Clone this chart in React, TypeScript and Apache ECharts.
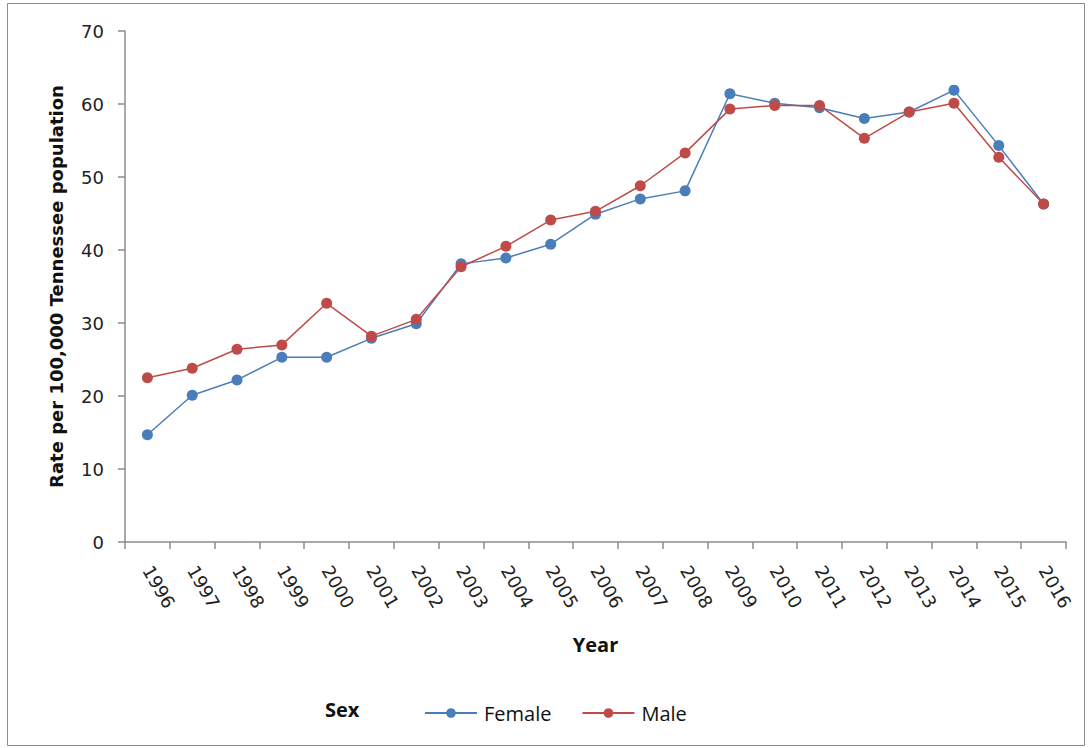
import React, { useEffect, useRef } from "react";
import * as echarts from "echarts";

const years = ["1996","1997","1998","1999","2000","2001","2002","2003","2004","2005","2006","2007","2008","2009","2010","2011","2012","2013","2014","2015","2016"];
const female = [14.7,20.1,22.2,25.3,25.3,27.9,29.9,38.1,38.9,40.8,44.9,47.0,48.1,61.4,60.1,59.5,58.0,58.9,61.9,54.3,46.3];
const male = [22.5,23.8,26.4,27.0,32.7,28.2,30.5,37.7,40.5,44.1,45.3,48.8,53.3,59.3,59.8,59.8,55.3,58.9,60.1,52.7,46.3];
const yTicks = { min: 0, max: 70, interval: 10 };

export default function App() {
  const ref = useRef<HTMLDivElement>(null);
  useEffect(() => {
    const chart = echarts.init(ref.current!, null, { renderer: "svg" });
    const axisColor = "#8c8c8c";
    chart.setOption({
      animation: false,
      backgroundColor: "#ffffff",
      textStyle: { fontFamily: "DejaVu Sans" },
      grid: { left: 125, top: 31, right: 23, bottom: 206 },
      graphic: [
        { type: "rect", shape: { x: 7.5, y: 3.5, width: 1077, height: 742 }, style: { fill: "none", stroke: "#8c8c8c", lineWidth: 1 }, z: -1 },
        { type: "text", left: 325, top: 699, style: { text: "Sex", font: "bold 20px 'Open Sans'", fill: "#111" } },
      ],
      legend: {
        left: 419,
        top: 698,
        itemWidth: 52,
        itemHeight: 12,
        itemGap: 30,
        textStyle: { fontFamily: "Open Sans", fontSize: 20, color: "#111", padding: [0, 0, 0, 2] },
        data: ["Female", "Male"],
      },
      xAxis: {
        type: "category",
        data: years,
        boundaryGap: true,
        name: "Year",
        nameLocation: "middle",
        nameGap: 92,
        nameTextStyle: { fontFamily: "Open Sans", fontWeight: "bold", fontSize: 20, color: "#111" },
        axisLine: { lineStyle: { color: axisColor, width: 1.5 } },
        axisTick: { show: true, length: 7, alignWithLabel: false, lineStyle: { color: axisColor, width: 1.5 } },
        axisLabel: { rotate: -60, fontSize: 18, color: "#222", margin: 25, interval: 0 },
      },
      yAxis: {
        type: "value",
        min: yTicks.min,
        max: yTicks.max,
        interval: yTicks.interval,
        name: "Rate per 100,000 Tennessee population",
        nameLocation: "middle",
        nameGap: 60,
        nameTextStyle: { fontFamily: "DejaVu Sans", fontWeight: "bold", fontSize: 18, color: "#111" },
        axisLine: { show: true, lineStyle: { color: axisColor, width: 1.5 } },
        axisTick: { show: true, length: 7, lineStyle: { color: axisColor, width: 1.5 } },
        axisLabel: { fontSize: 18, color: "#222", margin: 21 },
        splitLine: { show: false },
      },
      series: [
        {
          name: "Female",
          type: "line",
          data: female,
          symbol: "circle",
          symbolSize: 11,
          lineStyle: { color: "#4a7ebb", width: 1.5 },
          itemStyle: { color: "#4a7ebb" },
        },
        {
          name: "Male",
          type: "line",
          data: male,
          symbol: "circle",
          symbolSize: 11,
          lineStyle: { color: "#be4b48", width: 1.5 },
          itemStyle: { color: "#be4b48" },
        },
      ],
    });
    return () => chart.dispose();
  }, []);
  return (
    <div
      ref={ref}
      style={{ position: "absolute", left: 0, top: 0, width: 1089, height: 748 }}
    />
  );
}
